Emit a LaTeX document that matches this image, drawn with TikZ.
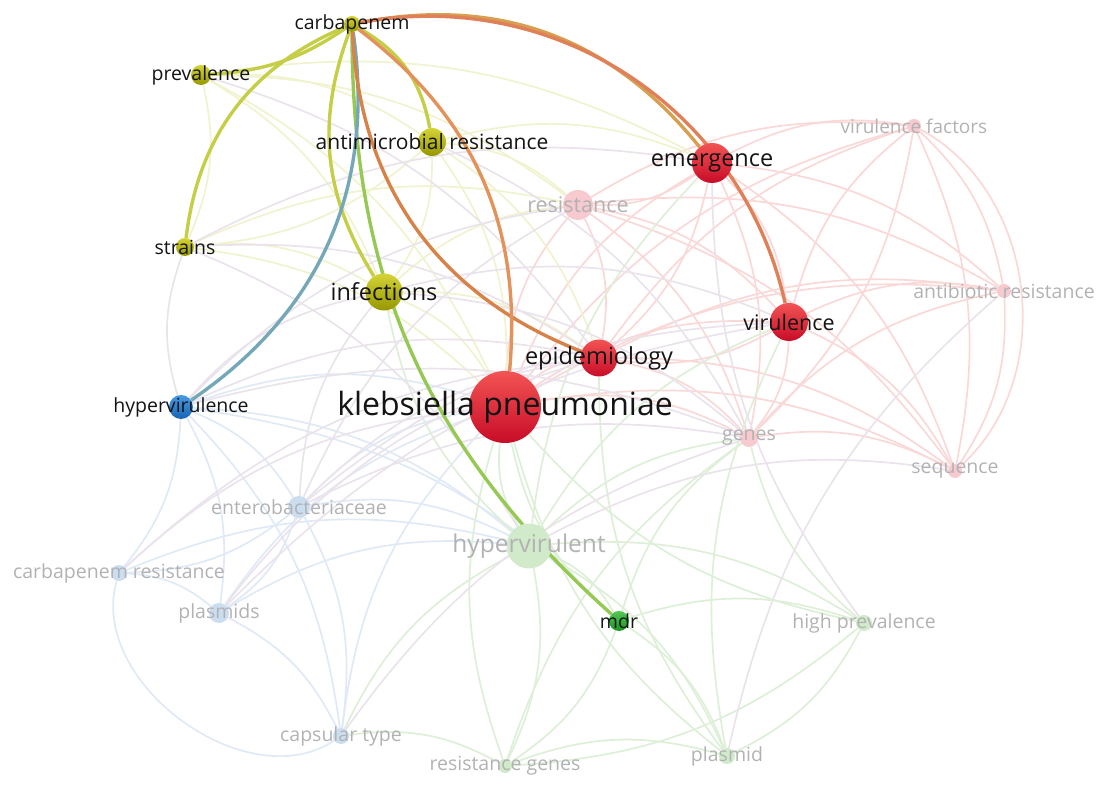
\documentclass[tikz,border=0pt]{standalone}
\usepackage{fontspec}
\setmainfont{Open Sans}
\usetikzlibrary{shapes,calc}
\pgfdeclarelayer{bg}
\pgfsetlayers{bg,main}
\definecolor{ytop}{RGB}{212,212,56}
\definecolor{ybot}{RGB}{150,150,0}
\definecolor{rtop}{RGB}{242,84,84}
\definecolor{rbot}{RGB}{200,12,40}
\definecolor{btop}{RGB}{70,155,228}
\definecolor{bbot}{RGB}{22,100,180}
\definecolor{gtop}{RGB}{84,200,84}
\definecolor{gbot}{RGB}{22,150,34}
\definecolor{rpale}{RGB}{246,202,206}
\definecolor{bpale}{RGB}{202,222,240}
\definecolor{gpale}{RGB}{208,234,202}
\definecolor{redline}{RGB}{250,216,216}
\definecolor{blueline}{RGB}{224,233,246}
\definecolor{greenline}{RGB}{222,239,216}
\definecolor{yelline}{RGB}{240,243,206}
\definecolor{mixline}{RGB}{234,227,236}
\definecolor{limehot}{RGB}{196,206,70}
\definecolor{mdrhot}{RGB}{150,200,84}
\definecolor{tealhot}{RGB}{116,168,184}
\definecolor{epidhot}{RGB}{214,130,72}
\definecolor{kphot}{RGB}{226,146,90}
\definecolor{emerghot}{RGB}{214,160,80}
\definecolor{viruhot}{RGB}{224,128,88}
\definecolor{darktext}{RGB}{20,20,20}
\definecolor{paletext}{RGB}{178,178,180}
\newcommand\fs[1]{\fontsize{#1}{#1}\selectfont}

\begin{document}
\begin{tikzpicture}[x=1pt,y=1pt]
	\tikzset{
		ynode/.style={circle,inner sep=0pt,minimum size=#1,top color=ytop,bottom color=ybot},
		rnode/.style={circle,inner sep=0pt,minimum size=#1,top color=rtop,bottom color=rbot},
		bnode/.style={circle,inner sep=0pt,minimum size=#1,top color=btop,bottom color=bbot},
		gnode/.style={circle,inner sep=0pt,minimum size=#1,top color=gtop,bottom color=gbot},
		pnode/.style={circle,inner sep=0pt,minimum size=#1,fill=rpale},
		lbnode/.style={circle,inner sep=0pt,minimum size=#1,fill=bpale},
		lgnode/.style={circle,inner sep=0pt,minimum size=#1,fill=gpale},
		on/.style={text=darktext,font=\fs{#1}},
		off/.style={text=paletext,font=\fs{#1}},
		thin edge/.style={line width=1.7pt},
		hot/.style={line width=3.4pt}
	}
	\useasboundingbox (0,0) rectangle (1101,791);

	\node (carb) at (352,767) [ynode=16, label={[on=19.5]center:carbapenem}] {};
	\node (prev) at (201,716) [ynode=20, label={[on=19.5]center:prevalence}] {};
	\node (amr) at (432,649) [ynode=28, label={[on=21]center:antimicrobial resistance}] {};
	\node (strains) at (185,544) [ynode=18, label={[on=19.5]center:strains}] {};
	\node (infect) at (384,499) [ynode=37, label={[on=23.5]center:infections}] {};
	\node (hyperv) at (181,384) [bnode=24, label={[on=19.5]center:hypervirulence}] {};
	\node (emerg) at (712,628) [rnode=40, label={[on=23.5]center:emergence}] {};
	\node (resist) at (578,586) [pnode=30, label={[off=21.5]center:resistance}] {};
	\node (virfac) at (914,665) [pnode=14, label={[off=19]center:virulence factors}] {};
	\node (antires) at (1004,500) [pnode=14, label={[off=19.5]center:antibiotic resistance}] {};
	\node (viru) at (789,469) [rnode=38, label={[on=21.5]center:virulence}] {};
	\node (epid) at (599,433) [rnode=37, label={[on=23.5]center:epidemiology}] {};
	\node (kp) at (505,384) [rnode=72, label={[on=32]center:klebsiella pneumoniae}] {};
	\node (genes) at (749,353) [pnode=18, label={[off=19.5]center:genes}] {};
	\node (seq) at (955,320) [pnode=14, label={[off=19.5]center:sequence}] {};
	\node (entero) at (299,284) [lbnode=22, label={[off=19.5]center:enterobacteriaceae}] {};
	\node (hypvt) at (529,245) [lgnode=45, label={[off=24.5]center:hypervirulent}] {};
	\node (carbres) at (119,218) [lbnode=16, label={[off=19.5]center:carbapenem resistance}] {};
	\node (plasmids) at (219,178) [lbnode=20, label={[off=19.5]center:plasmids}] {};
	\node (mdr) at (619,170) [gnode=20, label={[on=19.5]center:mdr}] {};
	\node (highprev) at (864,168) [lgnode=16, label={[off=19.5]center:high prevalence}] {};
	\node (capsular) at (341,55) [lbnode=16, label={[off=19.5]center:capsular type}] {};
	\node (resgenes) at (505,25) [lgnode=14, label={[off=19.5]center:resistance genes}] {};
	\node (plasmid) at (727,35) [lgnode=16, label={[off=19.5]center:plasmid}] {};

	\begin{pgfonlayer}{bg}
	\foreach \a/\b in {kp/emerg,kp/resist,kp/virfac,kp/antires,kp/viru,kp/epid,kp/genes,kp/seq,
		emerg/resist,emerg/virfac,emerg/antires,emerg/viru,emerg/epid,emerg/genes,emerg/seq,
		resist/viru,resist/epid,resist/genes,resist/antires,viru/virfac,viru/antires,viru/epid,
		viru/genes,viru/seq,epid/genes,epid/antires,virfac/antires,virfac/seq,antires/seq,
		genes/seq,virfac/genes,resist/virfac,epid/seq,genes/antires,resist/seq,epid/virfac}
	\draw[thin edge,redline] (\a) to[bend left=18] (\b);
	\foreach \a/\b in {prev/amr,prev/strains,prev/infect,amr/infect,amr/strains,strains/infect,
		infect/kp,amr/kp,prev/kp,strains/kp,amr/resist,infect/epid,prev/resist,amr/emerg,
		amr/epid,strains/resist,infect/resist,prev/emerg}
	\draw[thin edge,yelline] (\a) to[bend left=18] (\b);
	\foreach \a/\b in {hyperv/entero,hyperv/carbres,hyperv/plasmids,hyperv/capsular,hyperv/kp,
		entero/carbres,entero/plasmids,entero/capsular,carbres/plasmids,plasmids/capsular,
		entero/kp,plasmids/kp,capsular/kp,hyperv/hypvt,entero/hypvt,plasmids/hypvt,
		carbres/hypvt,hyperv/mdr}
	\draw[thin edge,blueline] (\a) to[bend left=18] (\b);
	\draw[thin edge,blueline] (carbres) to[bend right=70] (capsular);
	\foreach \a/\b in {hypvt/mdr,hypvt/highprev,hypvt/resgenes,hypvt/plasmid,hypvt/kp,
		mdr/highprev,mdr/resgenes,mdr/plasmid,highprev/plasmid,highprev/resgenes,
		resgenes/plasmid,resgenes/kp,plasmid/kp,highprev/kp,mdr/kp,capsular/resgenes,
		capsular/hypvt,highprev/genes,plasmid/viru,hypvt/viru,hypvt/infect,hypvt/emerg,
		mdr/genes,resgenes/genes,plasmid/epid,hypvt/genes}
	\draw[thin edge,greenline] (\a) to[bend left=18] (\b);
	\foreach \a/\b in {hyperv/strains,hyperv/infect,hyperv/epid,entero/epid,entero/viru,
		strains/emerg,prev/epid,infect/viru,carbres/kp,plasmids/epid,hypvt/seq,
		highprev/emerg,plasmid/antires,entero/resist,entero/genes,plasmids/viru,hyperv/resist,
		hyperv/genes,capsular/genes,carbres/epid,strains/epid,infect/genes,amr/genes,
		entero/infect,strains/hypvt}
	\draw[thin edge,mixline] (\a) to[bend left=18] (\b);
	\draw[thin edge,redline] (virfac) to[bend left=55] (seq);

	\draw[hot,limehot] (carb) to[bend left=15] (prev);
	\draw[hot,limehot] (carb) to[bend right=30] (strains);
	\draw[hot,limehot] (carb) to[bend left=25] (amr);
	\draw[hot,limehot] (carb) to[bend right=26] (infect);
	\draw[hot,mdrhot] (carb) to[bend right=24] (mdr);
	\draw[hot,tealhot] (carb) to[bend left=32] (hyperv);
	\draw[hot,epidhot] (carb) to[bend right=33] (epid);
	\draw[hot,kphot] (carb) to[bend left=29] (kp);
	\draw[hot,emerghot] (carb) to[bend left=31] (emerg);
	\draw[hot,viruhot] (carb) to[bend left=44] (viru);
	\end{pgfonlayer}
\end{tikzpicture}
\end{document}
